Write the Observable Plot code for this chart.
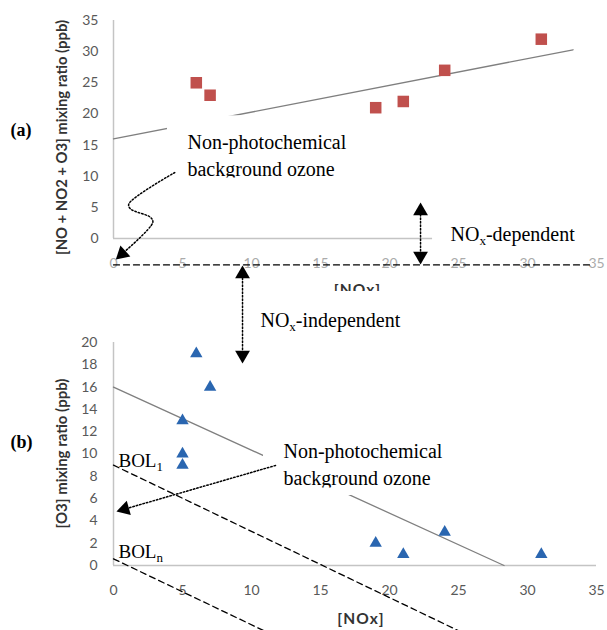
<!DOCTYPE html>
<html><head><meta charset="utf-8">
<script src="https://cdn.jsdelivr.net/npm/d3@7"></script>
<script src="https://cdn.jsdelivr.net/npm/@observablehq/plot@0.6"></script>
<style>
html,body{margin:0;padding:0;background:#fff;overflow:hidden;}
#wrap{position:relative;width:607px;height:630px;}
#wrap svg{position:absolute;left:0;}
</style></head><body><div id="wrap"></div>
<script>
// ---------- Panel (a) data ----------
const noxA = [6, 7, 19, 21, 24, 31];
const sumA = [25, 23, 21, 22, 27, 32];
const trendAx = [0, 33.3];
const trendAy = [16, 30.3];
// ---------- Panel (b) data ----------
const noxB = [6, 7, 5, 5, 5, 19, 21, 24, 31];
const o3B = [19, 16, 13, 10, 9, 2, 1, 3, 1];
const trendBx = [0, 28.3];
const trendBy = [16, 0];
const bol1x = [0, 25], bol1y = [9, -5.85];
const bolnx = [0, 10.9], bolny = [0.6, -5.85];
// ---------- ticks & labels ----------
const xTicks = [0, 5, 10, 15, 20, 25, 30, 35];
const yTicksA = [0, 5, 10, 15, 20, 25, 30, 35];
const yTicksB = [0, 2, 4, 6, 8, 10, 12, 14, 16, 18, 20];
const xLabel = "[NOx]";
const yLabelA = "[NO + NO2 + O3] mixing ratio (ppb)";
const yLabelB = "[O3] mixing ratio (ppb)";
const bgText = "Non-photochemical\nbackground ozone";

// ---------- annotations (data units of each panel) ----------
const curlyA = [[4.44,10.59],[1.11,5.54],[1.23,4.75],[2.68,3.40],[2.85,2.60],[0.63,-2.45]];
const dashA = [[0,-4.25],[34.6,-4.25]];

const zip = (xs, ys) => xs.map((x, i) => ({x, y: ys[i]}));
const ptsA = zip(noxA, sumA), ptsB = zip(noxB, o3B);
const trendA = zip(trendAx, trendAy), trendB = zip(trendBx, trendBy);
const bol1 = zip(bol1x, bol1y), boln = zip(bolnx, bolny);

const sans = "Lato, 'Open Sans', sans-serif";
const serif = "'Liberation Serif', 'Times New Roman', serif";
const tickColor = "#595959", titleColor = "#333333", axisColor = "#c4c4c4";
const dotted = {stroke: "black", strokeWidth: 1.5, strokeDasharray: "1.5,2"};
const dashed = {stroke: "black", strokeWidth: 1.3, strokeDasharray: "6,4"};
const head = (x, y, rotate) => Plot.dot([{x, y}], {x: "x", y: "y", symbol: "triangle", r: 5.5, fill: "black", rotate});
const serifText = (x, y, text, extra = {}) => Plot.text([{x, y, text}], {x: "x", y: "y", text: "text", textAnchor: "start", lineAnchor: "bottom", fontFamily: serif, fontSize: 20, lineHeight: 1.35, fill: "black", ...extra});
const box = (x1, x2, y1, y2) => Plot.rect([{x1, x2, y1, y2}], {x1: "x1", x2: "x2", y1: "y1", y2: "y2", fill: "white"});

const plotA = Plot.plot({
  width: 607, height: 291,
  marginLeft: 113, marginRight: 11, marginTop: 20, marginBottom: 53,
  style: {background: "transparent", fontFamily: sans, overflow: "hidden", top: "0px"},
  x: {domain: [0, 35]},
  y: {domain: [0, 35]},
  marks: [
    Plot.axisY({ticks: yTicksA, tickSize: 0, tickPadding: 15, fontSize: 14, color: tickColor, label: null}),
    Plot.axisX({ticks: xTicks, tickSize: 0, tickPadding: 20, fontSize: 14, color: "#ababab", label: null}),
    Plot.ruleX([0], {y1: 0, y2: 35, stroke: axisColor, strokeWidth: 1.5}),
    Plot.ruleY([0], {x1: 0, x2: 35, stroke: axisColor, strokeWidth: 1.5}),
    Plot.line(trendA, {x: "x", y: "y", stroke: "#7f7f7f", strokeWidth: 1.3}),
    Plot.dot(ptsA, {x: "x", y: "y", symbol: "square", r: 6.5, fill: "#c0504d"}),
    box(3.91, 18.77, 19.7, 9.6),
    serifText(5.36, 10.1, bgText),
    box(5.2, 18.77, 9.71, 8.9),
    box(23.12, 35.3, 4.0, -3.2),
    serifText(24.42, -0.48, "NO_x-dependent"),
    Plot.line(curlyA, {x: d => d[0], y: d => d[1], curve: "catmull-rom", ...dotted}),
    head(0.63, -2.45, 228),
    Plot.line(dashA, {x: d => d[0], y: d => d[1], ...dashed}),
    Plot.line([[22.25, 4.4],[22.25, -2.8]], {x: d => d[0], y: d => d[1], ...dotted}),
    head(22.25, 4.4, 0),
    head(22.25, -2.8, 180),
    Plot.text(["(a)"], {frameAnchor: "left", dx: -103, dy: 6.5, textAnchor: "start", lineAnchor: "bottom", fontFamily: serif, fontWeight: "bold", fontSize: 18, fill: "black"}),
    Plot.text([yLabelA], {frameAnchor: "left", rotate: -90, dx: -51, dy: 8, textAnchor: "middle", lineAnchor: "middle", fontWeight: "bold", fontSize: 14.8, fill: titleColor}),
    Plot.text([xLabel], {frameAnchor: "bottom", dx: 2.5, dy: 56, lineAnchor: "bottom", fontWeight: "bold", fontSize: 15.5, fill: titleColor})
  ]
});

const plotB = Plot.plot({
  width: 607, height: 339,
  marginLeft: 113, marginRight: 11, marginTop: 51, marginBottom: 65,
  style: {background: "transparent", fontFamily: sans, overflow: "visible", top: "291px"},
  x: {domain: [0, 35]},
  y: {domain: [0, 20]},
  marks: [
    Plot.axisY({ticks: yTicksB, tickSize: 0, tickPadding: 16, fontSize: 14, color: tickColor, label: null}),
    Plot.axisX({ticks: xTicks, tickSize: 0, tickPadding: 20, fontSize: 14, color: tickColor, label: null}),
    Plot.ruleX([0], {y1: 0, y2: 20, stroke: axisColor, strokeWidth: 1.5}),
    Plot.ruleY([0], {x1: 0, x2: 35, stroke: axisColor, strokeWidth: 1.5}),
    Plot.line(trendB, {x: "x", y: "y", stroke: "#7f7f7f", strokeWidth: 1.3}),
    Plot.dot(ptsB, {x: "x", y: "y", symbol: "triangle", r: 4.6, fill: "#2a66b0"}),
    Plot.line(bol1, {x: "x", y: "y", ...dashed}),
    Plot.line(boln, {x: "x", y: "y", ...dashed}),
    box(10.87, 25.65, 12.1, 6.28),
    serifText(12.32, 7.26, bgText),
    box(12.0, 25.65, 6.95, 6.28),
    Plot.line([[11.74, 8.97],[0.81, 5.06]], {x: d => d[0], y: d => d[1], ...dotted}),
    head(0.81, 5.06, 254),
    Plot.line([[9.35, 26.1],[9.35, 18.9]], {x: d => d[0], y: d => d[1], ...dotted}),
    head(9.35, 26.14, 0),
    head(9.35, 18.88, 180),
    serifText(10.65, 21.35, "NO_x-independent"),
    serifText(0.36, 8.79, "BOL_1", {fontSize: 19}),
    serifText(0.36, 0.63, "BOL_n", {fontSize: 19}),
    Plot.text(["(b)"], {frameAnchor: "left", dx: -103, dy: -6.5, textAnchor: "start", lineAnchor: "bottom", fontFamily: serif, fontWeight: "bold", fontSize: 18, fill: "black"}),
    Plot.text([yLabelB], {frameAnchor: "left", rotate: -90, dx: -51, dy: -0.5, textAnchor: "middle", lineAnchor: "middle", fontWeight: "bold", fontSize: 15, fill: titleColor}),
    Plot.text([xLabel], {frameAnchor: "bottom", dx: 6, dy: 58, lineAnchor: "bottom", fontWeight: "bold", fontSize: 15.5, fill: titleColor})
  ]
});

function subscripts(svg) {
  d3.select(svg).selectAll("text").each(function () {
    const t = this.textContent;
    if (t === xLabel) this.setAttribute("letter-spacing", "1.2");
    if (!t.includes("_") || this.querySelector("tspan")) return;
    const parts = t.split(/_(\w)/);
    this.textContent = "";
    parts.forEach((p, i) => {
      if (!p) return;
      const ts = document.createElementNS("http://www.w3.org/2000/svg", "tspan");
      ts.textContent = p;
      if (i % 2 === 1) { ts.setAttribute("font-size", "13"); ts.setAttribute("dy", "4"); }
      else if (i > 0) ts.setAttribute("dy", "-4");
      this.appendChild(ts);
    });
  });
}
subscripts(plotA); subscripts(plotB);
const wrap = document.getElementById("wrap");
wrap.appendChild(plotA);
wrap.appendChild(plotB);
</script></body></html>
